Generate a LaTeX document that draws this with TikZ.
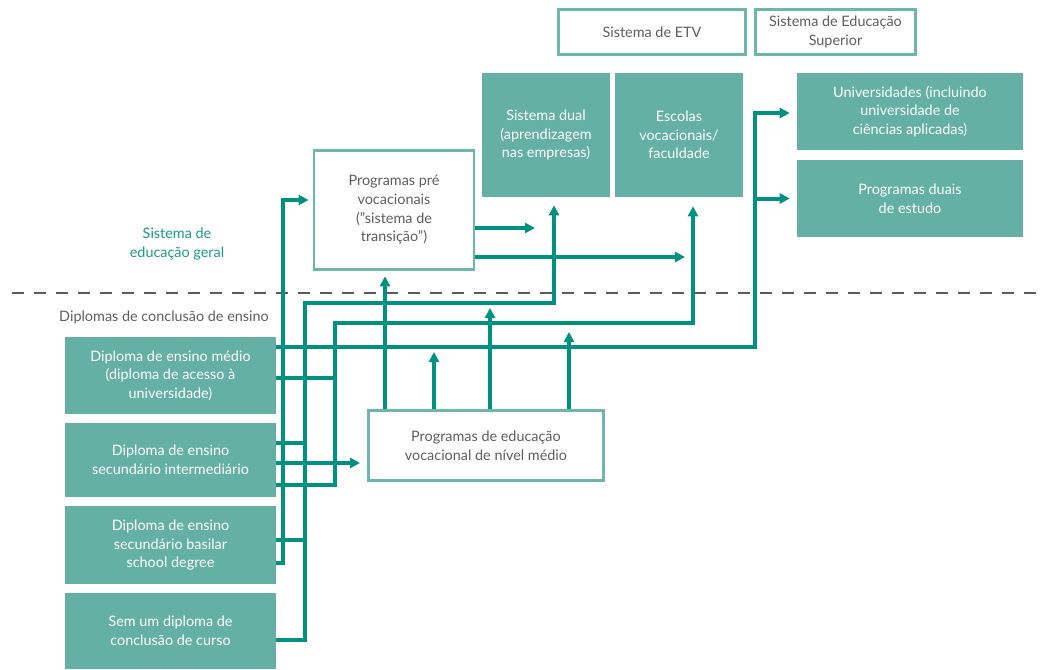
\documentclass[tikz,border=0pt]{standalone}
\usepackage{fontspec}
\setmainfont{Lato}
\usepackage{xcolor}
\usetikzlibrary{arrows.meta}
\definecolor{boxteal}{HTML}{64B0A5}
\definecolor{lineteal}{HTML}{00927F}
\definecolor{edgeteal}{HTML}{6DB6AB}
\definecolor{labelteal}{HTML}{1A9A88}
\definecolor{textgray}{HTML}{5E5E5E}
\definecolor{dashgray}{HTML}{5A5A5A}
\tikzset{
  boxfont/.style={font=\fontsize{10.8}{14}\selectfont},
  filled/.style={boxfont, fill=boxteal, text=white, align=center, inner sep=0pt},
  framed/.style={boxfont, draw=edgeteal, line width=2.2pt, fill=white, text=textgray, align=center, inner sep=0pt},
  link/.style={draw=lineteal, line width=3pt},
  linkarrow/.style={link, -{Triangle[length=7.5pt,width=7.5pt]}},
}

\begin{document}
\begin{tikzpicture}[x=0.75pt, y=-0.75pt]
\useasboundingbox (0,0) rectangle (1040,669);

\node[framed, minimum width=140.25pt, minimum height=33.75pt] (etv) at (652,32) {Sistema de ETV};
\node[framed, minimum width=120pt, minimum height=33.75pt] (hes) at (835.5,32) {Sistema de Educação\\Superior};
\node[filled, minimum width=96pt, minimum height=93pt] (dual) at (546,135) {Sistema dual\\(aprendizagem\\nas empresas)};
\node[filled, minimum width=96pt, minimum height=93pt] (escolas) at (679,135) {Escolas\\vocacionais/\\faculdade};
\node[filled, minimum width=169.5pt, minimum height=57.75pt] (univ) at (910,111.5) {Universidades (incluindo\\universidade de\\ciências aplicadas)};
\node[filled, minimum width=169.5pt, minimum height=57.75pt] (pduais) at (910,198.5) {Programas duais\\de estudo};
\node[framed, minimum width=120pt, minimum height=89.25pt] (pre) at (394,210) {Programas pré\\vocacionais\\(”sistema de\\transição”)};
\node[framed, minimum width=176.25pt, minimum height=52.5pt] (pevm) at (486,445.5) {Programas de educação\\vocacional de nível médio};

\node[boxfont, text=labelteal, align=center] (geral) at (177,244) {Sistema de\\educação geral};
\node[boxfont, text=textgray] (diplomas) at (164,317) {Diplomas de conclusão de ensino};

\node[filled, minimum width=158.25pt, minimum height=57.75pt] (d1) at (170.5,375.5) {Diploma de ensino médio\\(diploma de acesso à\\universidade)};
\node[filled, minimum width=158.25pt, minimum height=55.5pt] (d2) at (170.5,460) {Diploma de ensino\\secundário intermediário};
\node[filled, minimum width=158.25pt, minimum height=58.5pt] (d3) at (170.5,545) {Diploma de ensino\\secundário basilar\\school degree};
\node[filled, minimum width=158.25pt, minimum height=57pt] (d4) at (170.5,631) {Sem um diploma de\\conclusão de curso};

\draw[dashgray, line width=2.2pt, dash pattern=on 9pt off 7.5pt] (12,293) -- (1040,293);

\coordinate (ra) at (283,200);
\coordinate (rb) at (305,303);
\coordinate (rc) at (335,323);
\coordinate (rd) at (755,113);
\coordinate (pa) at (535,228);
\coordinate (pb) at (685,257);

\draw[linkarrow] (d3.east |- 0,563) -| (ra) -- ([xshift=-3pt]pre.west |- ra);
\draw[linkarrow] (d4.east |- 0,640) -| (rb) -| ([xshift=6pt,yshift=-6pt]dual.south);
\draw[linkarrow] (d2.east |- 0,485) -| (rc) -| ([xshift=10.5pt,yshift=-6.75pt]escolas.south);
\draw[linkarrow] (d1.east |- 0,347) -| (rd) -- ([xshift=-5.25pt]univ.west |- rd);
\draw[linkarrow] (rd |- pduais.west) -- ([xshift=-5.25pt]pduais.west);

\draw[link] (d1.east |- 0,378) -- (rc |- 0,378);
\draw[link] (d2.east |- 0,443) -- (rb |- 0,443);
\draw[link] (d3.east |- 0,540) -- (rb |- 0,540);
\draw[linkarrow] (d2.east |- 0,463) -- ([xshift=-5.25pt]pevm.west |- 0,463);

\draw[linkarrow] (pre.east |- pa) -- (pa);
\draw[linkarrow] (pre.east |- pb) -- (pb);

\draw[linkarrow] (pevm.north -| 385,0) -- ([yshift=-4pt]pre.south -| 385,0);
\draw[linkarrow] (pevm.north -| 434,0) -- (434,352);
\draw[linkarrow] (pevm.north -| 490,0) -- (490,308);
\draw[linkarrow] (pevm.north -| 569,0) -- (569,332);
\end{tikzpicture}
\end{document}
